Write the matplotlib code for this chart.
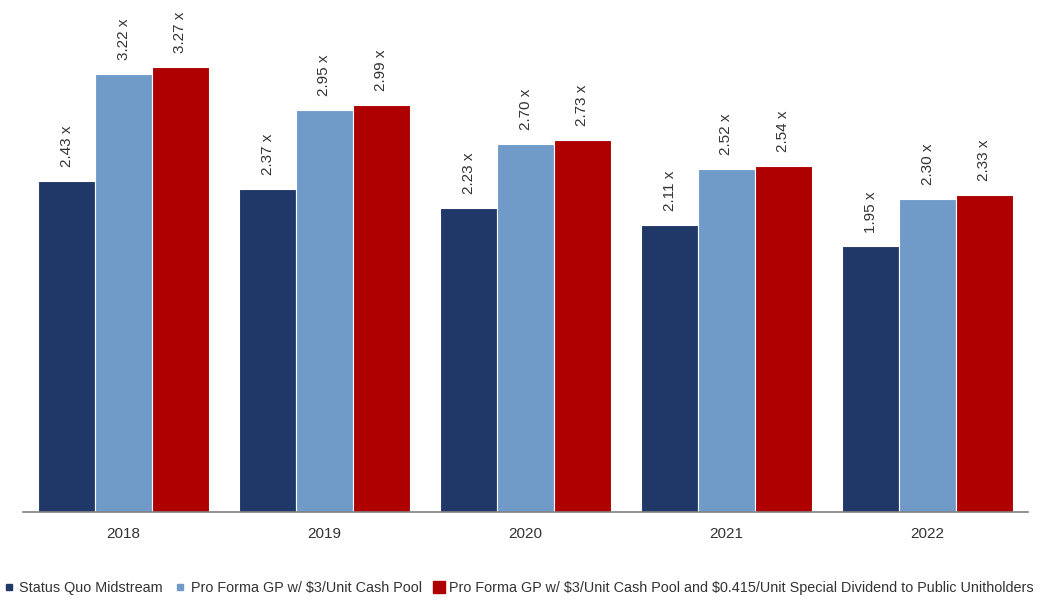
import matplotlib
matplotlib.use("Agg")
import matplotlib.pyplot as plt
from matplotlib.lines import Line2D
import numpy as np

plt.rcParams['font.family'] = ['Liberation Sans', 'DejaVu Sans']
plt.rcParams['text.parse_math'] = False

years = ["2018", "2019", "2020", "2021", "2022"]
series_names = [
    "Status Quo Midstream",
    "Pro Forma GP w/ $3/Unit Cash Pool",
    "Pro Forma GP w/ $3/Unit Cash Pool and $0.415/Unit Special Dividend to Public Unitholders",
]
status_quo = [2.43, 2.37, 2.23, 2.11, 1.95]
pro_forma = [3.22, 2.95, 2.70, 2.52, 2.30]
pro_forma_div = [3.27, 2.99, 2.73, 2.54, 2.33]
colors = ["#1F3868", "#709BC9", "#AE0000"]

W, H = 1045, 600
fig = plt.figure(figsize=(W / 100, H / 100), dpi=100)
ax = fig.add_axes([23 / W, (H - 512) / H, (1028 - 23) / W, 512 / H])

x = np.arange(len(years))
bw = 0.283
text_color = "#333333"
for i, (vals, c) in enumerate(zip([status_quo, pro_forma, pro_forma_div], colors)):
    pos = x + (i - 1) * bw
    ax.bar(pos, vals, width=bw, color=c, edgecolor="white", linewidth=0.8)
    for p, v in zip(pos, vals):
        ax.annotate(f"{v:.2f} x", (p, v), xytext=(0, 10), textcoords="offset points",
                    rotation=90, ha="center", va="bottom", fontsize=11,
                    color=text_color, parse_math=False)

ax.set_xlim(-0.5, len(years) - 0.5)
ax.set_ylim(0, 3.76)
ax.set_xticks(x)
ax.set_xticklabels(years, fontsize=11, color=text_color)
ax.tick_params(axis="x", length=0, pad=11)
ax.set_yticks([])
for s in ["top", "right", "left"]:
    ax.spines[s].set_visible(False)
ax.spines["bottom"].set_color("#808080")
ax.spines["bottom"].set_linewidth(1.2)

sizes = [5, 5, 8]
handles = [Line2D([0], [0], marker="s", linestyle="", markersize=s,
                  markerfacecolor=c, markeredgecolor=c)
           for c, s in zip(colors, sizes)]
leg = fig.legend(handles, series_names, loc="center left",
                 bbox_to_anchor=(5 / W, (H - 588) / H), ncol=3, frameon=False,
                 fontsize=10.4, handlelength=0.6, handletextpad=0.4,
                 columnspacing=0.9, borderaxespad=0, borderpad=0)
for t in leg.get_texts():
    t.set_color(text_color)

fig.savefig("out.png", dpi=100)
